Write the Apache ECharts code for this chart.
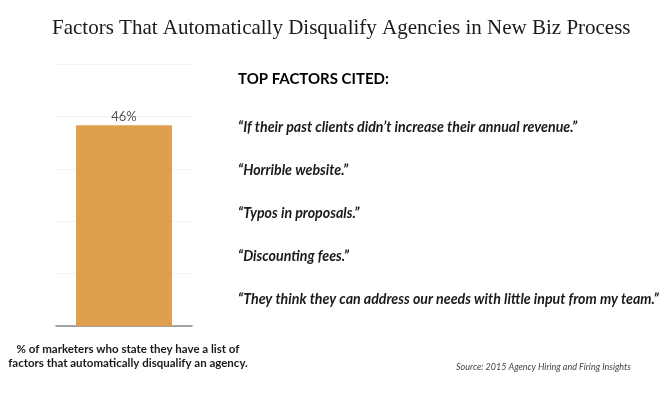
<!DOCTYPE html>
<html>
<head>
<meta charset="utf-8">
<script src="https://cdn.jsdelivr.net/npm/echarts@6/dist/echarts.min.js"></script>
<style>html,body{margin:0;padding:0;background:#fff}#c{width:669px;height:402px}</style>
</head>
<body>
<div id="c"></div>
<script>
const categories = ["Have a disqualifying list"];
const values = [46];
const yTicks = [0, 12, 24, 36, 48, 60];
const factors = [
  "\u201cIf their past clients didn\u2019t increase their annual revenue.\u201d",
  "\u201cHorrible website.\u201d",
  "\u201cTypos in proposals.\u201d",
  "\u201cDiscounting fees.\u201d",
  "\u201cThey think they can address our needs with little input from my team.\u201d"
];
const chart = echarts.init(document.getElementById('c'));
const factorTexts = factors.map((t, i) => ({
  type: 'text', left: 238, top: 120 + i * 43,
  style: { text: t, font: 'italic bold 14.2px Lato', fill: '#1a1a1a' }
}));
chart.setOption({
  animation: false,
  title: [{
    text: 'Factors That Automatically Disqualify Agencies in New Biz Process',
    left: 47, top: 13,
    textStyle: { fontFamily: 'Liberation Serif', fontWeight: 'normal', fontSize: 21, color: '#1a1a1a' }
  }],
  grid: { left: 56, right: 477, top: 64, bottom: 76 },
  xAxis: {
    type: 'category', data: categories,
    axisLine: { lineStyle: { color: '#888', width: 1.5 } },
    axisTick: { show: false }, axisLabel: { show: false }
  },
  yAxis: {
    type: 'value', min: yTicks[0], max: yTicks[yTicks.length - 1], interval: yTicks[1] - yTicks[0],
    axisLabel: { show: false }, axisLine: { show: false }, axisTick: { show: false },
    splitLine: { lineStyle: { color: '#e6e6e6', type: 'dotted' } }
  },
  series: [{
    type: 'bar', data: values, barWidth: 96,
    itemStyle: { color: '#DFA04D' },
    label: { show: true, position: 'top', distance: 2, formatter: '{c}%', color: '#555', fontSize: 13, fontFamily: 'Lato' }
  }],
  graphic: [
    { type: 'text', left: 238, top: 72, style: { text: 'TOP FACTORS CITED:', font: 'bold 15px Lato', fill: '#000' } },
    ...factorTexts,
    { type: 'text', x: 128, y: 342, style: { text: '% of marketers who state they have a list of\nfactors that automatically disqualify an agency.', font: 'bold 11.5px Lato', fill: '#1a1a1a', align: 'center', lineHeight: 14 } },
    { type: 'text', left: 456, top: 363, style: { text: 'Source: 2015 Agency Hiring and Firing Insights', font: 'italic 9px Lato', fill: '#444' } }
  ]
});
</script>
</body>
</html>
